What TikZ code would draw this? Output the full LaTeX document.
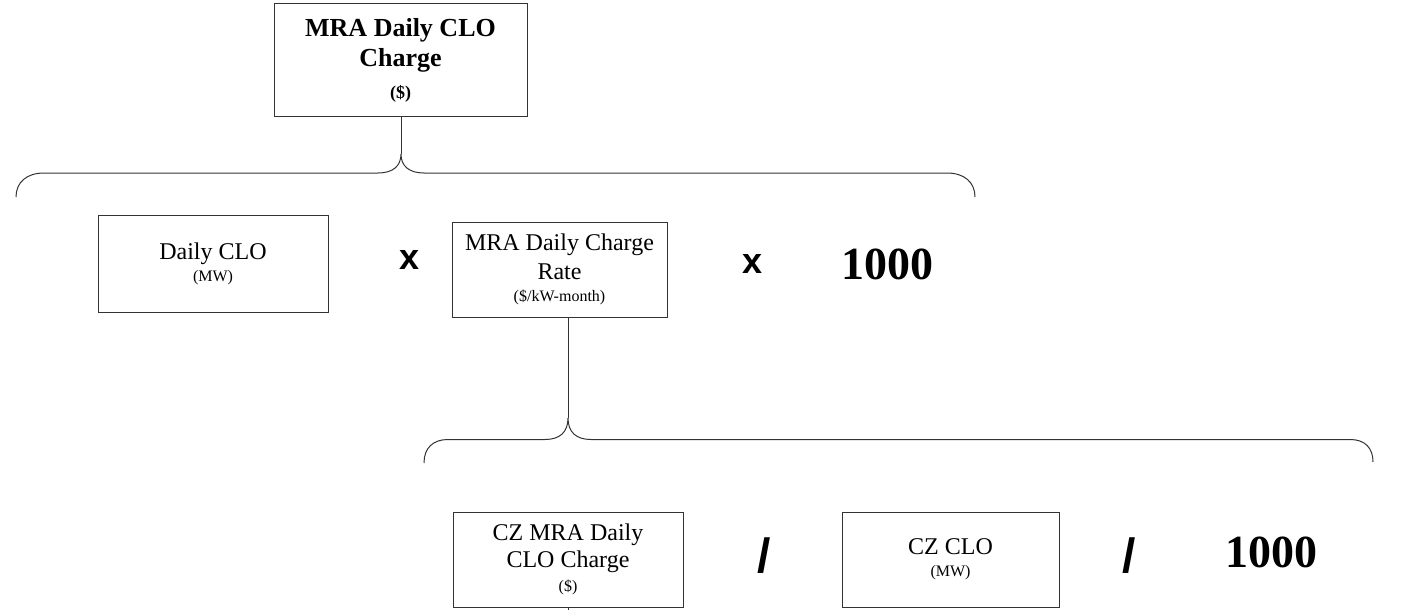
\documentclass[tikz,border=0pt]{standalone}
\usepackage{fontspec}
\setmainfont{Liberation Serif}
\newfontfamily\opfont{Liberation Sans}
\begin{document}
\begin{tikzpicture}[x=0.5pt,y=-0.5pt,
  box/.style={draw=black!80, line width=0.5pt, fill=white, align=center, inner sep=0pt},
  link/.style={draw=black!80, line width=0.5pt},
  op/.style={font=\opfont\bfseries\fontsize{18}{18}\selectfont, inner sep=0pt},
  slashop/.style={font=\opfont\bfseries\fontsize{24}{24}\selectfont, inner sep=0pt},
  num/.style={font=\bfseries\fontsize{23}{23}\selectfont, inner sep=0pt},
]
\useasboundingbox (0,0) rectangle (1418,610);

% boxes
\node[box, minimum width=126.5pt, minimum height=56.5pt] (top) at (400.5,60.5)
  {\bfseries\fontsize{13}{15}\selectfont MRA Daily CLO\\[3pt]
   \bfseries\fontsize{13}{15}\selectfont Charge\\[4pt]
   \bfseries\fontsize{9}{16}\selectfont (\$)};
\node[box, minimum width=115pt, minimum height=48.5pt] (dclo) at (213,263.5)
  {\fontsize{12}{14.5}\selectfont Daily CLO\\[-1pt]
   \fontsize{8}{10.5}\selectfont (MW)};
\node[box, minimum width=107.5pt, minimum height=47.5pt] (rate) at (559.5,269.5)
  {\fontsize{12}{14.5}\selectfont MRA Daily Charge\\[2.5pt]
   \fontsize{12}{14.5}\selectfont Rate\\[-1pt]
   \fontsize{8}{10.5}\selectfont (\$/kW-month)};
\node[box, minimum width=115pt, minimum height=47.5pt] (czmra) at (568,559.5)
  {\fontsize{12}{14.5}\selectfont CZ MRA Daily\\[1.5pt]
   \fontsize{12}{14.5}\selectfont CLO Charge\\
   \fontsize{8}{10.5}\selectfont (\$)};
\node[box, minimum width=108.5pt, minimum height=47.5pt] (czclo) at (950.5,559.5)
  {\fontsize{12}{14.5}\selectfont CZ CLO\\[-1pt]
   \fontsize{8}{10.5}\selectfont (MW)};

% operators
\node[op] (x1) at (410,260) {x};
\node[op] (x2) at (753,264) {x};
\node[num] (n1) at (887.5,264) {1000};
\node[slashop] (s1) at (764,556) {/};
\node[slashop] (s2) at (1129,556) {/};
\node[num] (n2) at (1271.5,552.5) {1000};

% top brace
\coordinate (t1) at (401,154);
\coordinate (t1l) at (16,197);
\coordinate (t1r) at (975,197);
\draw[link] (top.south -| t1) -- (t1);
\draw[link] (t1l) .. controls (16,182) and (27,173) .. (44,173) -- (378,173)
  .. controls (393,173) and (401,166) .. (t1)
  .. controls (401,166) and (409,173) .. (424,173) -- (947,173)
  .. controls (964,173) and (975,182) .. (t1r);

% bottom brace
\coordinate (t2) at (568,418);
\coordinate (t2l) at (424,463);
\coordinate (t2r) at (1373,462);
\draw[link] (rate.south -| t2) -- (t2);
\draw[link] (t2l) .. controls (424,448) and (433,439.5) .. (448,439.5) -- (545,439.5)
  .. controls (560,439.5) and (568,432) .. (t2)
  .. controls (568,432) and (576,439.5) .. (591,439.5) -- (1350,439.5)
  .. controls (1365,439.5) and (1373,448) .. (t2r);

% stub below
\coordinate (stub) at (568,614);
\draw[link] (czmra.south) -- (stub);
\end{tikzpicture}
\end{document}
